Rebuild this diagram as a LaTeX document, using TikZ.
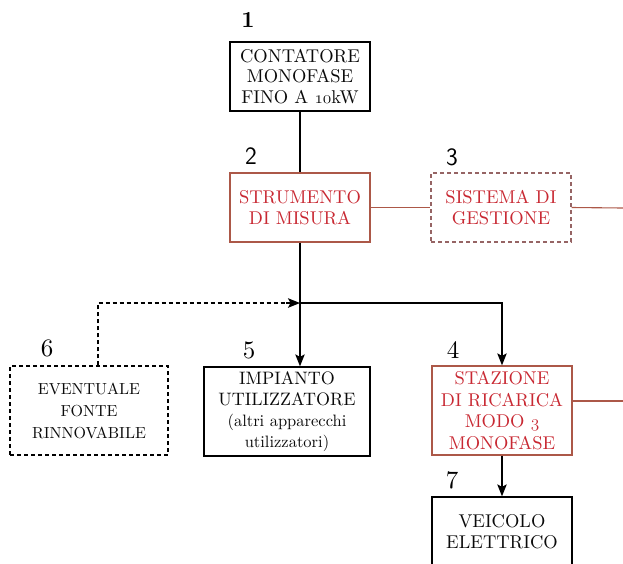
\documentclass[tikz,border=0pt]{standalone}
\usepackage{fontspec}
\setmainfont{lmroman10-regular.otf}[BoldFont=lmroman10-bold.otf]
\usetikzlibrary{arrows.meta}
\newcommand\osn[1]{{\usefont{OML}{cmm}{m}{it}#1}}
\definecolor{boxred}{RGB}{172,88,72}
\definecolor{txtred}{RGB}{200,40,50}
\definecolor{dashbrown}{RGB}{150,100,100}
\definecolor{txtdark}{RGB}{10,10,10}
\tikzset{
  blk/.style={draw=black, line width=1.3pt, align=center, inner sep=1pt, text=txtdark,
    font=\fontsize{18.5}{20.5}\selectfont, minimum width=140pt, minimum height=69pt},
  redbox/.style={blk, draw=boxred, text=txtred},
  dashred/.style={redbox, draw=dashbrown, dashed, dash pattern=on 4pt off 3pt},
  dashblk/.style={blk, dashed, dash pattern=on 4pt off 3pt, line width=1.1pt},
  num/.style={font=\fontsize{25}{25}\selectfont, text=black},
  conn/.style={line width=1.2pt, draw=black},
  redconn/.style={line width=1.1pt, draw=boxred},
  tip/.style={-{Stealth[length=12pt,width=9.5pt,inset=2.5pt]}},
  arr/.style={conn, tip}
}
\begin{document}
\begin{tikzpicture}[x=1pt,y=-1pt]
\useasboundingbox (0,0) rectangle (623,563);
\clip (0,0) rectangle (623,563);
\node[blk] (b1) at (300,76.5) {CONTATORE\\MONOFASE\\FINO A \osn{10}kW};
\node[redbox] (b2) at (300,207.5) {STRUMENTO\\DI MISURA};
\node[dashred] (b3) at (501,207.5) {SISTEMA DI\\GESTIONE};
\node[redbox, minimum height=89pt, font=\fontsize{18.5}{21.5}\selectfont] (b4) at (502,410.5) {STAZIONE\\DI RICARICA\\MODO \osn{3}\\MONOFASE};
\node[blk, minimum width=166pt, minimum height=89pt, font=\fontsize{18}{21}\selectfont] (b5) at (287,411.5) {IMPIANTO\\UTILIZZATORE\\{\fontsize{16.5}{21}\selectfont(altri apparecchi}\\{\fontsize{16.5}{21}\selectfont utilizzatori)}};
\node[dashblk, minimum width=158pt, minimum height=89pt, font=\fontsize{16}{22}\selectfont] (b6) at (89,410.5) {EVENTUALE\\FONTE\\RINNOVABILE};
\node[blk, minimum height=69pt] (b7) at (502,531.5) {VEICOLO\\ELETTRICO};

\node[num, font=\bfseries\fontsize{23}{23}\selectfont] (n1) at (248,20) {1};
\node[num, font=\sffamily\fontsize{25}{25}\selectfont] (n2) at (251,156) {2};
\node[num, font=\sffamily\fontsize{25}{25}\selectfont] (n3) at (452,157) {3};
\node[num] (n4) at (453,350) {4};
\node[num] (n5) at (249,350) {5};
\node[num] (n6) at (47,348) {6};
\node[num] (n7) at (452,480) {7};

\coordinate (j) at (300,303);
\coordinate (jr) at (502,303);
\coordinate (d6) at (98,303);
\coordinate (dt) at (286,303);
\coordinate (e3) at (623,208);
\coordinate (e4) at (623,401);

\draw[conn] (b1.south) -- (b2.north);
\draw[conn] (b2.south) -- (j);
\draw[arr] (j) -- (j |- b5.north);
\draw[arr] (j) -- (jr) -- (b4.north);
\draw[arr] (b4.south) -- (b7.north);
\draw[conn, dashed, dash pattern=on 4pt off 3pt] (b6.north -| d6) -- (d6) -- (dt);
\draw[arr] (dt) -- (j);
\draw[redconn] (b2.east) -- (b3.west);
\draw[redconn] (b3.east) -- (e3);
\draw[redconn] (b4.east |- e4) -- (e4);
\end{tikzpicture}
\end{document}
